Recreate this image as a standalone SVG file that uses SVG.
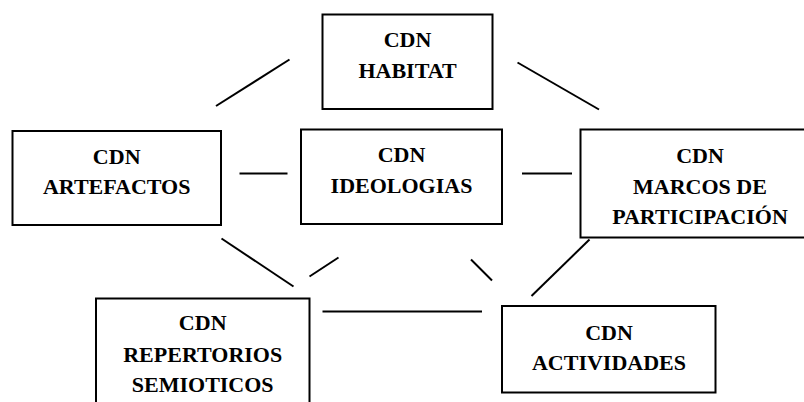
<svg xmlns="http://www.w3.org/2000/svg" width="804" height="402" viewBox="0 0 804 402">
<style>
.box{fill:#fff;stroke:#000;stroke-width:2}
.t{font-family:'Liberation Serif','Times New Roman',serif;font-weight:700;font-size:22px;text-anchor:middle;fill:#000}
.c line{stroke:#000;stroke-width:2}
</style>
<rect width="804" height="402" fill="#fff"/>
<g id="connectors" class="c">
<line x1="216" y1="106" x2="289.5" y2="59.5"/>
<line x1="517.5" y1="62.5" x2="599" y2="109.5"/>
<line x1="239.5" y1="173.5" x2="287.5" y2="173.5"/>
<line x1="522" y1="173.5" x2="572" y2="173.5"/>
<line x1="221.5" y1="238.5" x2="293.5" y2="286.5"/>
<line x1="309.5" y1="276.5" x2="338.5" y2="257.5"/>
<line x1="471" y1="259.5" x2="492" y2="280.5"/>
<line x1="589.5" y1="239.5" x2="531.5" y2="296"/>
<line x1="322.5" y1="311.5" x2="482" y2="311.5"/>
</g>
<g id="habitat">
<rect class="box" x="322.5" y="14.5" width="170" height="94.5"/>
<text class="t" x="407.5" y="46.5">CDN</text>
<text class="t" x="407.5" y="77.5">HABITAT</text>
</g>
<g id="artefactos">
<rect class="box" x="12.5" y="131" width="208.5" height="94"/>
<text class="t" x="116.7" y="163.5">CDN</text>
<text class="t" x="116.7" y="194">ARTEFACTOS</text>
</g>
<g id="ideologias">
<rect class="box" x="301" y="129.5" width="201" height="94.5"/>
<text class="t" x="401.5" y="162">CDN</text>
<text class="t" x="401.5" y="193">IDEOLOGIAS</text>
</g>
<g id="marcos">
<rect class="box" x="580.5" y="129.5" width="240" height="108"/>
<text class="t" x="700" y="163">CDN</text>
<text class="t" x="700" y="194">MARCOS DE</text>
<text class="t" x="700" y="223.5">PARTICIPACIÓN</text>
</g>
<g id="repertorios">
<rect class="box" x="96" y="298.5" width="213.5" height="130"/>
<text class="t" x="202.7" y="330">CDN</text>
<text class="t" x="202.7" y="361.5">REPERTORIOS</text>
<text class="t" x="202.7" y="391.5">SEMIOTICOS</text>
</g>
<g id="actividades">
<rect class="box" x="502" y="306" width="213.5" height="86.5"/>
<text class="t" x="609" y="340">CDN</text>
<text class="t" x="609" y="369.5">ACTIVIDADES</text>
</g>
</svg>
